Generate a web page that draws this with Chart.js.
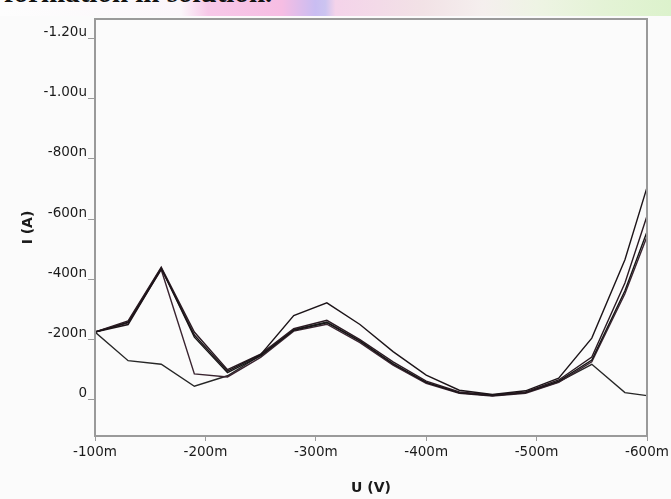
<!DOCTYPE html>
<html>
<head>
<meta charset="utf-8">
<script src="https://cdn.jsdelivr.net/npm/chart.js@4.4.1/dist/chart.umd.min.js"></script>
<style>
  html, body { margin: 0; padding: 0; background: #fbfbfb; }
  #wrap { position: relative; width: 671px; height: 499px; overflow: hidden; }
  #banner {
    position: absolute; left: 0; top: 0; width: 671px; height: 16px; overflow: hidden;
    background: linear-gradient(90deg, #fdfdfd 0%, #fbf6fa 27%, #f7c8e8 31%, #f6bde3 42%, #c9bdf2 47%, #ccc4f0 48.5%, #f4d3ea 50%, #f2e2e6 63%, #f5efee 72%, #eef4e4 80%, #e4f3d6 90%, #dcf2cc 100%);
  }
  #banner span {
    position: absolute; left: 4px; top: -24px;
    font: bold 29px "Liberation Serif", serif; color: #111; white-space: nowrap;
  }
  #box { position: absolute; left: 0; top: 17px; width: 671px; height: 482px; }
</style>
</head>
<body>
<div id="wrap">
  <div id="banner"><span>formation in solution.</span></div>
  <div id="box"><canvas id="chart" width="671" height="482"></canvas></div>
</div>
<script>
// potential (mV)
const voltage = [-100, -130, -160, -190, -220, -250, -280, -310, -340, -370, -400, -430, -460, -490, -520, -550, -580, -600];

// current (nA), one array per scan
const scan1 = [-225, -250, -435, -215, -95, -150, -280, -322, -250, -160, -82, -32, -18, -30, -72, -205, -465, -705];
const scan2 = [-225, -262, -440, -225, -100, -152, -236, -264, -200, -126, -62, -26, -16, -26, -66, -142, -388, -610];
const scan3 = [-225, -258, -438, -208, -90, -146, -231, -256, -195, -120, -58, -23, -14, -24, -62, -132, -362, -558];
const scan4 = [-225, -255, -432, -86, -76, -141, -228, -251, -190, -115, -55, -22, -13, -22, -58, -126, -352, -542];
const scan5 = [-225, -130, -118, -45, -80, -148, -233, -258, -196, -118, -57, -24, -14, -24, -60, -118, -24, -14];

const scans = [scan1, scan2, scan3, scan4, scan5];
const lineColors = ['#1c1418', '#2a1a22', '#161616', '#3a2430', '#262626'];

const yTickValues = [0, -200, -400, -600, -800, -1000, -1200];

function yLabel(v) {
  if (v === 0) return '0';
  if (Math.abs(v) >= 1000) return (v / 1000).toFixed(2) + 'u';
  return v + 'n';
}

const frame = {
  id: 'frame',
  afterDraw(chart) {
    const { ctx, chartArea: a } = chart;
    ctx.save();
    ctx.strokeStyle = '#9a9a9a';
    ctx.lineWidth = 2;
    ctx.strokeRect(a.left, a.top, a.right - a.left, a.bottom - a.top);
    ctx.restore();
  }
};

const tickFont = { family: 'DejaVu Sans', size: 13.5 };
const titleFont = { family: 'DejaVu Sans', size: 14, weight: 'bold' };

new Chart(document.getElementById('chart'), {
  type: 'line',
  data: {
    datasets: scans.map((s, i) => ({
      data: voltage.map((v, j) => ({ x: v, y: s[j] })),
      borderColor: lineColors[i],
      borderWidth: 1.4,
      pointRadius: 0,
      tension: 0,
      fill: false
    }))
  },
  options: {
    responsive: false,
    animation: false,
    layout: { padding: { top: 2, right: 24, bottom: 0, left: 0 } },
    plugins: { legend: { display: false }, tooltip: { enabled: false } },
    scales: {
      x: {
        type: 'linear',
        reverse: true,
        min: -600,
        max: -100,
        ticks: { stepSize: 100, padding: 3, color: '#1a1a1a', font: tickFont, callback: v => v + 'm' },
        grid: { drawOnChartArea: false, tickLength: 5, color: '#9a9a9a' },
        border: { color: '#9a9a9a', width: 2 },
        title: { display: true, text: 'U (V)', color: '#1a1a1a', font: titleFont, padding: { top: 4, bottom: 2 } },
        afterFit(s) { s.height = 63; s.paddingLeft = 0; s.paddingRight = 0; }
      },
      y: {
        type: 'linear',
        reverse: true,
        min: -1264,
        max: 120,
        afterBuildTicks(s) { s.ticks = yTickValues.map(v => ({ value: v })); },
        ticks: { padding: 1, labelOffset: -6, color: '#1a1a1a', font: tickFont, callback: v => yLabel(v) },
        grid: { drawOnChartArea: false, tickLength: 7, color: '#9a9a9a' },
        border: { color: '#9a9a9a', width: 2 },
        title: { display: true, text: 'I (A)', color: '#1a1a1a', font: titleFont, padding: { top: 20, bottom: 0 } },
        afterFit(s) { s.width = 95; s.paddingTop = 0; s.paddingBottom = 0; }
      }
    }
  },
  plugins: [frame]
});
</script>
</body>
</html>
